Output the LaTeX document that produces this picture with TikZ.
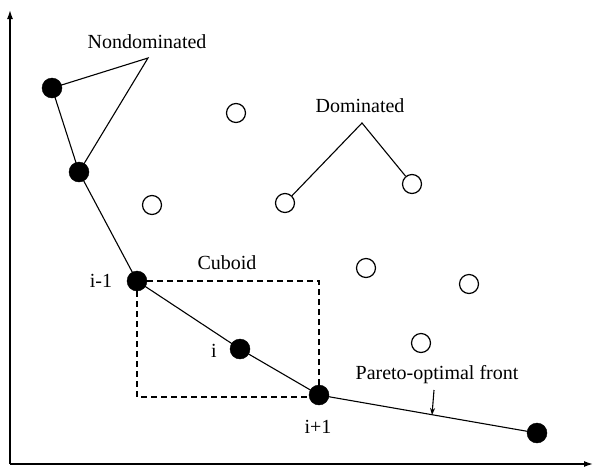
\documentclass[tikz,border=0pt]{standalone}
\usepackage{fontspec}
\setmainfont{Liberation Serif}
\usetikzlibrary{arrows.meta}
\begin{document}
\begin{tikzpicture}[x=1pt,y=-1pt,
  filled/.style={circle,fill=black,draw=black,minimum size=20pt,inner sep=0pt},
  hollow/.style={circle,fill=white,draw=black,line width=1.2pt,minimum size=19pt,inner sep=0pt},
  lbl/.style={font=\fontsize{20}{24}\selectfont,inner sep=0pt},
  thin line/.style={line width=1.1pt},
  axis/.style={line width=1.4pt,-{Latex[length=9pt,width=6pt]}}]
\useasboundingbox (0,0) rectangle (593,469);
% axes
\coordinate (O) at (10,464);
\coordinate (Ytop) at (10,10);
\coordinate (Xend) at (593,464);
\draw[axis] (O) -- (Ytop);
\draw[axis] (O) -- (Xend);
% cuboid
\coordinate (c1) at (137,281);
\coordinate (c2) at (319,397);
\draw[dashed,line width=1.3pt,dash pattern=on 6pt off 4pt] (c1) rectangle (c2);
% front points coordinates
\coordinate (p1) at (52,88);
\coordinate (p2) at (79,172);
\coordinate (p3) at (137,281);
\coordinate (p4) at (240,349);
\coordinate (p5) at (319,395);
\coordinate (p6) at (537,433);
\draw[thin line] (p1) -- (p2) -- (p3) -- (p4) -- (p5) -- (p6);
% nondominated pointers
\coordinate (na) at (148,58);
\draw[thin line] (p1) -- (na) -- (p2);
% dominated pointers
\coordinate (da) at (362,123);
\node[hollow] (h3) at (285,203) {};
\node[hollow] (h4) at (412,184) {};
\draw[thin line] (h3) -- (da) -- (h4);
% filled nodes
\node[filled] (f1) at (p1) {};
\node[filled] (f2) at (p2) {};
\node[filled] (f3) at (p3) {};
\node[filled] (f4) at (p4) {};
\node[filled] (f5) at (p5) {};
\node[filled] (f6) at (p6) {};
% other hollow nodes
\node[hollow] (h1) at (236,113) {};
\node[hollow] (h2) at (152,205) {};
\node[hollow] (h5) at (366,268) {};
\node[hollow] (h6) at (469,284) {};
\node[hollow] (h7) at (421,343) {};
% labels
\node[lbl] (tn) at (147,42) {Nondominated};
\node[lbl] (td) at (360,106) {Dominated};
\node[lbl] (tc) at (227,263) {Cuboid};
\node[lbl] (tim1) at (101,281) {i-1};
\node[lbl] (ti) at (214,351) {i};
\node[lbl] (tip1) at (318,427) {i+1};
\node[lbl] (tp) at (437,375) {Pareto-optimal front};
\coordinate (ar1) at (434,390);
\coordinate (ar2) at (432,415);
\draw[thin line,-{Stealth[length=7pt,width=5pt]}] (ar1) -- (ar2);
\end{tikzpicture}
\end{document}
